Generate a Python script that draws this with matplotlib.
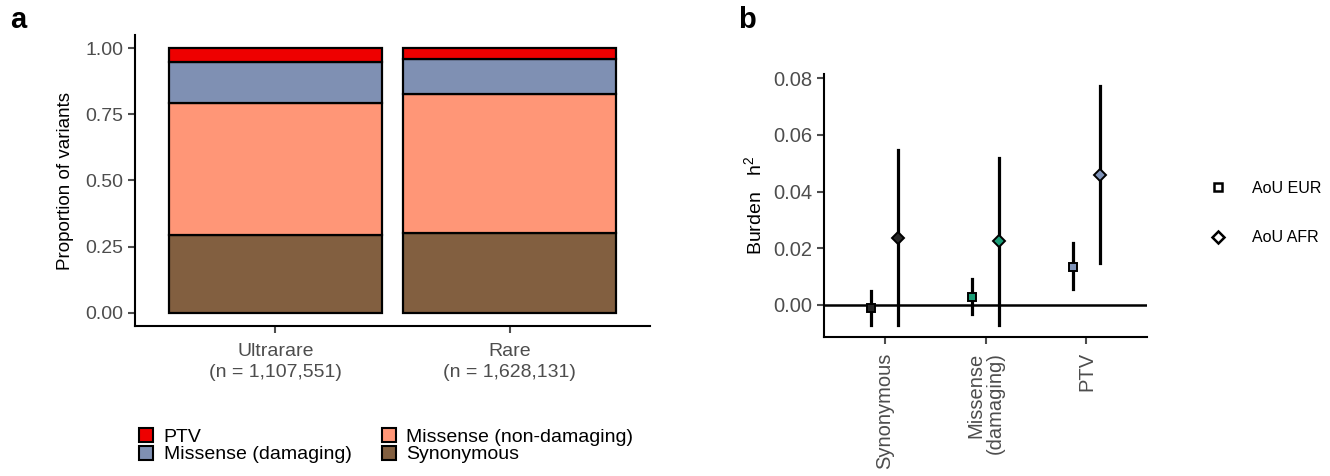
import numpy as np
import matplotlib
matplotlib.use("Agg")
import matplotlib.pyplot as plt
from matplotlib.patches import Patch
from matplotlib.lines import Line2D

plt.rcParams['font.family'] = ['Liberation Sans', 'DejaVu Sans']

# ---- data: panel a ----
groups = ["Ultrarare\n(n = 1,107,551)", "Rare\n(n = 1,628,131)"]
synonymous = [0.294, 0.302]
missense_nd = [0.498, 0.524]
missense_dmg = [0.155, 0.132]
ptv = [0.053, 0.042]

# ---- data: panel b ----
classes = ["Synonymous", "Missense\n(damaging)", "PTV"]
eur_est = [-0.001, 0.0029, 0.0135]
eur_lo = [-0.0070, -0.0033, 0.0056]
eur_hi = [0.0049, 0.0092, 0.0217]
afr_est = [0.0235, 0.0226, 0.0457]
afr_lo = [-0.0070, -0.0070, 0.0147]
afr_hi = [0.0546, 0.0520, 0.0771]
class_cols = ["#262626", "#1B9E77", "#7F93B8"]

col_ptv = "#EE0000"
col_mdmg = "#7F90B3"
col_mnd = "#FF9677"
col_syn = "#825F40"
tick_col = "#4D4D4D"

fig = plt.figure(figsize=(13.3, 4.76), dpi=100)

#### panel a ####
ax = fig.add_axes([135/1330, 1-326/476, 515/1330, 291/476])
x = np.arange(1, len(groups)+1)
bottom = np.zeros(len(groups))
for vals, c in [(synonymous, col_syn), (missense_nd, col_mnd), (missense_dmg, col_mdmg), (ptv, col_ptv)]:
    ax.bar(x, vals, 0.91, bottom=bottom, color=c, edgecolor='black', linewidth=1.6)
    bottom = bottom + np.array(vals)
ax.set_xlim(0.4, 2.6)
ax.set_ylim(-0.05, 1.05)
ax.set_yticks([0, 0.25, 0.5, 0.75, 1.0])
ax.set_yticklabels(["0.00", "0.25", "0.50", "0.75", "1.00"])
ax.set_xticks(x)
ax.set_xticklabels(groups, linespacing=1.3)
ax.set_ylabel("Proportion of variants", fontsize=13.5, labelpad=8)
for s in ['top', 'right']:
    ax.spines[s].set_visible(False)
for s in ['left', 'bottom']:
    ax.spines[s].set_linewidth(1.5)
ax.tick_params(colors=tick_col, labelsize=14, width=1.5, length=5, labelcolor=tick_col)
ax.tick_params(axis='x', pad=7)

handles = [Patch(facecolor=col_ptv, edgecolor='black', linewidth=1.5, label="PTV"),
           Patch(facecolor=col_mdmg, edgecolor='black', linewidth=1.5, label="Missense (damaging)"),
           Patch(facecolor=col_mnd, edgecolor='black', linewidth=1.5, label="Missense (non-damaging)"),
           Patch(facecolor=col_syn, edgecolor='black', linewidth=1.5, label="Synonymous")]
fig.legend(handles=handles, ncol=2, loc='upper left', bbox_to_anchor=(139/1330, 1-428/476),
           frameon=False, fontsize=14, handlelength=0.72, handleheight=0.72, handletextpad=0.55,
           labelspacing=0.0, columnspacing=1.55, borderpad=0, borderaxespad=0)

#### panel b ####
bx = fig.add_axes([824/1330, 1-337/476, 323/1330, 263/476])
xc = np.arange(1, len(classes)+1)
d = 0.13
for i in range(len(classes)):
    bx.plot([xc[i]-d, xc[i]-d], [eur_lo[i], eur_hi[i]], color='black', lw=2.3, zorder=2)
    bx.plot([xc[i]+d, xc[i]+d], [afr_lo[i], afr_hi[i]], color='black', lw=2.3, zorder=2)
    bx.plot(xc[i]-d, eur_est[i], marker='s', ms=6, mfc=class_cols[i], mec='black', mew=1.4, zorder=3)
    bx.plot(xc[i]+d, afr_est[i], marker='D', ms=6.5, mfc=class_cols[i], mec='black', mew=1.4, zorder=3)
bx.axhline(0, color='black', lw=1.8, zorder=1)
bx.set_xlim(0.4, 3.6)
bx.set_ylim(-0.0113, 0.0815)
bx.set_yticks([0, 0.02, 0.04, 0.06, 0.08])
bx.set_yticklabels(["0.00", "0.02", "0.04", "0.06", "0.08"])
bx.set_xticks(xc)
bx.set_xticklabels(classes, rotation=90, va='top', ha='center', multialignment='right', linespacing=1.0)
bx.set_ylabel("Burden   $\\mathregular{h^2}$", fontsize=14, labelpad=6)
for s in ['top', 'right']:
    bx.spines[s].set_visible(False)
for s in ['left', 'bottom']:
    bx.spines[s].set_linewidth(1.5)
bx.tick_params(colors=tick_col, labelsize=14.5, width=1.5, length=5, labelcolor=tick_col)
bx.tick_params(axis='x', pad=6)

leg_handles = [Line2D([], [], linestyle='none', marker='s', ms=6, mfc='white', mec='black', mew=1.8, label="AoU EUR"),
               Line2D([], [], linestyle='none', marker='D', ms=6, mfc='white', mec='black', mew=1.8, label="AoU AFR")]
fig.legend(handles=leg_handles, loc='upper left', bbox_to_anchor=(1208/1330, 1-181/476),
           frameon=False, fontsize=11.5, labelspacing=2.15, handletextpad=1.55, handlelength=1.2,
           borderpad=0, borderaxespad=0)

fig.text(10/1330, 1-20/476, "a", fontsize=21, fontweight='bold', va='center', ha='left')
fig.text(738/1330, 1-20/476, "b", fontsize=21, fontweight='bold', va='center', ha='left')

plt.savefig("out.png", dpi=100)
